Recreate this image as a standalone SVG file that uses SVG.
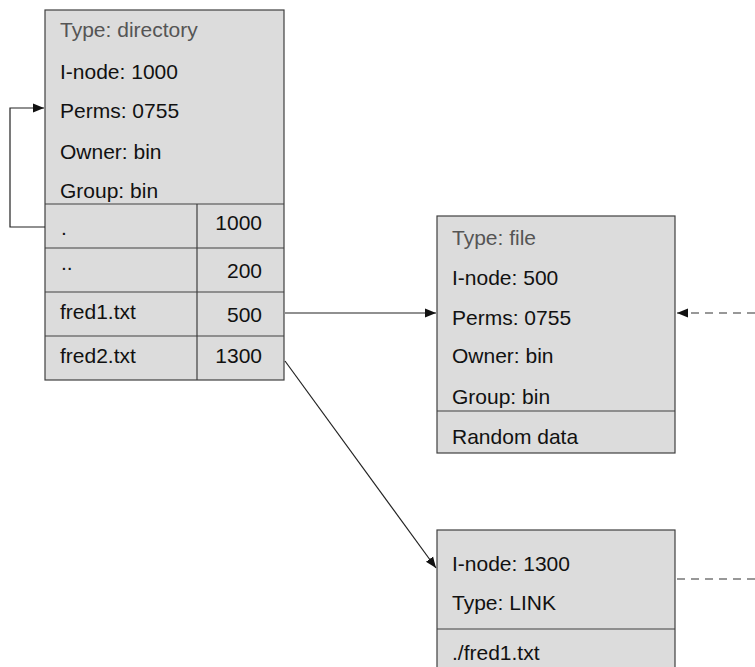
<svg xmlns="http://www.w3.org/2000/svg" width="755" height="667" viewBox="0 0 755 667">
<style>
.box{fill:#dcdcdc;stroke:#404040;stroke-width:1.2}
.div{stroke:#404040;stroke-width:1.2;fill:none}
text{font-family:"Liberation Sans",Arial,sans-serif;font-size:21px;fill:#111}
.g{fill:#555}
.r{text-anchor:end}
.c{stroke:#222;stroke-width:1.2;fill:none}
.d{stroke:#333;stroke-width:1.2;fill:none;stroke-dasharray:8 6}
</style>
<defs>
<marker id="ah" viewBox="0 0 10 10" refX="10" refY="5" markerWidth="11" markerHeight="11" markerUnits="userSpaceOnUse" orient="auto">
<path d="M0,1 L10,5 L0,9 Z" fill="#111"/>
</marker>
</defs>
<g id="dir">
<rect class="box" x="45" y="10" width="239" height="370"/>
<path class="div" d="M45,204 H284 M45,248 H284 M45,292 H284 M45,336 H284 M197,204 V380"/>
<text class="g" x="60" y="37">Type: directory</text>
<text x="60" y="79">I-node: 1000</text>
<text x="60" y="118">Perms: 0755</text>
<text x="60" y="159">Owner: bin</text>
<text x="60" y="198">Group: bin</text>
<text x="61" y="235">.</text>
<text class="r" x="262" y="230">1000</text>
<text x="61" y="270">..</text>
<text class="r" x="262" y="278">200</text>
<text x="60" y="319">fred1.txt</text>
<text class="r" x="262" y="322">500</text>
<text x="60" y="363">fred2.txt</text>
<text class="r" x="262" y="363">1300</text>
</g>
<g id="file">
<rect class="box" x="437" y="216" width="238" height="237"/>
<path class="div" d="M437,411 H675"/>
<text class="g" x="452" y="245">Type: file</text>
<text x="452" y="285">I-node: 500</text>
<text x="452" y="325">Perms: 0755</text>
<text x="452" y="363">Owner: bin</text>
<text x="452" y="404">Group: bin</text>
<text x="452" y="444">Random data</text>
</g>
<g id="link">
<rect class="box" x="437" y="530" width="238" height="150"/>
<path class="div" d="M437,629 H675"/>
<text x="452" y="571">I-node: 1300</text>
<text x="452" y="610">Type: LINK</text>
<text x="452" y="660">./fred1.txt</text>
</g>
<g id="connectors">
<path class="c" d="M45,227 H10 V108 H44" marker-end="url(#ah)"/>
<path class="c" d="M285,313 H436" marker-end="url(#ah)"/>
<path class="c" d="M285,361 L436,568" marker-end="url(#ah)"/>
<path class="d" d="M755,313 H677" marker-end="url(#ah)"/>
<path class="d" d="M677,579 H755"/>
</g>
</svg>
